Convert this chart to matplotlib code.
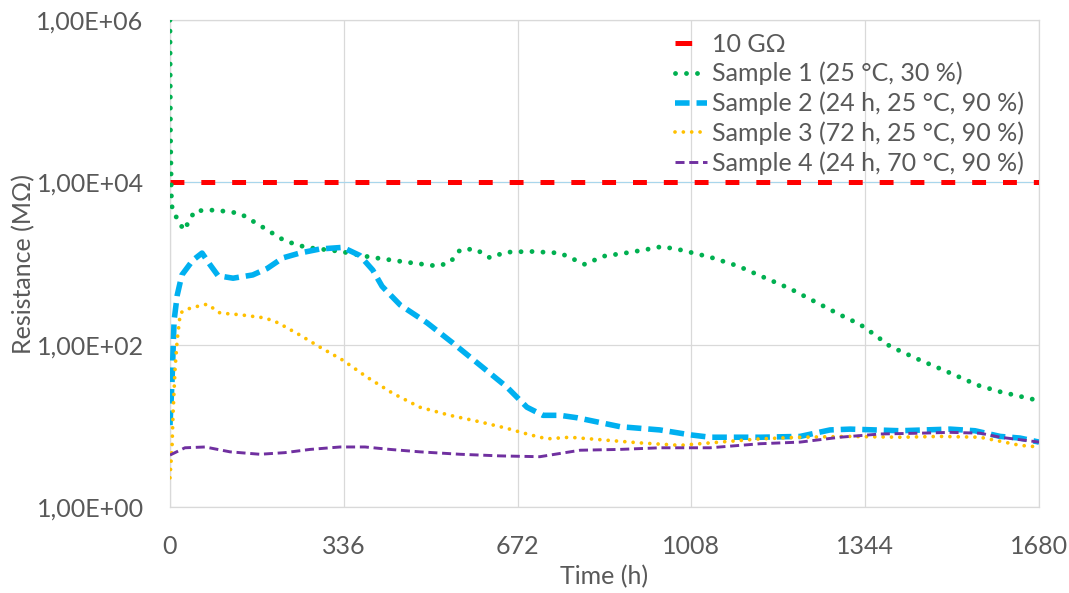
import numpy as np
import matplotlib
matplotlib.use("Agg")
import matplotlib.pyplot as plt
from matplotlib.ticker import FixedLocator, FixedFormatter, NullLocator

plt.rcParams['font.family'] = ['Lato', 'DejaVu Sans']
plt.rcParams['lines.scale_dashes'] = False

# -- data (time in h, resistance in MOhm)
limit_value = 1e4

s1_t = [0, 1, 3, 8, 27, 48, 87, 135, 174, 222, 263, 329, 387, 454, 516, 541, 561, 590,
        619, 648, 696, 754, 802, 837, 880, 918, 951, 986, 1044, 1098, 1141, 1199, 1253,
        1295, 1334, 1363, 1392, 1450, 1498, 1562, 1605, 1680]
s1_log = [6.0, 4.6, 3.72, 3.62, 3.41, 3.65, 3.66, 3.62, 3.47, 3.28, 3.20, 3.15, 3.08, 3.02,
          2.97, 3.01, 3.17, 3.18, 3.07, 3.14, 3.15, 3.13, 2.99, 3.09, 3.13, 3.17, 3.21, 3.17,
          3.08, 2.97, 2.85, 2.69, 2.51, 2.37, 2.25, 2.12, 1.98, 1.81, 1.68, 1.50, 1.42, 1.31]

s2_t = [0, 4, 8, 14, 23, 44, 62, 77, 93, 122, 160, 188, 218, 251, 290, 334, 367, 392, 410,
        445, 497, 547, 599, 651, 690, 721, 754, 787, 870, 947, 1005, 1044, 1141, 1218, 1276,
        1315, 1411, 1508, 1556, 1605, 1643, 1680]
s2_log = [1.01, 1.56, 2.30, 2.61, 2.86, 3.04, 3.13, 2.99, 2.85, 2.82, 2.86, 2.94, 3.07, 3.13,
          3.18, 3.20, 3.10, 2.92, 2.72, 2.49, 2.27, 2.02, 1.75, 1.48, 1.23, 1.13, 1.13, 1.10,
          0.99, 0.95, 0.89, 0.86, 0.86, 0.87, 0.95, 0.96, 0.94, 0.96, 0.94, 0.87, 0.85, 0.80]

s3_t = [0, 4, 6, 10, 14, 20, 30, 44, 72, 97, 135, 184, 209, 251, 290, 334, 381, 431, 483,
        541, 599, 651, 696, 729, 773, 831, 909, 986, 1063, 1141, 1218, 1315, 1411, 1489,
        1566, 1605, 1643, 1680]
s3_log = [0.36, 0.74, 1.16, 1.72, 2.06, 2.39, 2.43, 2.46, 2.50, 2.39, 2.37, 2.33, 2.27, 2.12,
          1.97, 1.81, 1.60, 1.40, 1.23, 1.13, 1.05, 0.97, 0.89, 0.84, 0.86, 0.83, 0.79, 0.76,
          0.80, 0.84, 0.86, 0.87, 0.86, 0.87, 0.86, 0.81, 0.76, 0.74]

s4_t = [0, 29, 68, 116, 174, 222, 271, 329, 377, 425, 483, 561, 638, 715, 754, 793, 870,
        947, 1044, 1141, 1218, 1295, 1373, 1450, 1508, 1566, 1605, 1680]
s4_log = [0.64, 0.73, 0.74, 0.68, 0.65, 0.67, 0.71, 0.74, 0.74, 0.71, 0.68, 0.65, 0.63, 0.62,
          0.66, 0.70, 0.71, 0.73, 0.73, 0.78, 0.80, 0.86, 0.90, 0.91, 0.92, 0.91, 0.86, 0.80]

labels = ["10 G\u03a9", "Sample 1 (25 \u00b0C, 30 %)", "Sample 2 (24 h, 25 \u00b0C, 90 %)",
          "Sample 3 (72 h, 25 \u00b0C, 90 %)", "Sample 4 (24 h, 70 \u00b0C, 90 %)"]
xticks = [0, 336, 672, 1008, 1344, 1680]
yticks = [1, 1e2, 1e4, 1e6]
ytick_labels = ["1,00E+00", "1,00E+02", "1,00E+04", "1,00E+06"]

txt = "#595959"
grid = "#d9d9d9"
fs = 18

fig = plt.figure(figsize=(10.69, 5.93), dpi=100)
ax = fig.add_axes([0.159, 0.145, 0.813, 0.821])

ax.plot([0, 1680], [limit_value, limit_value], color="#a9d6ec", lw=0.8, zorder=2)
ax.plot([0, 1680], [limit_value, limit_value], color="#ff0000", lw=3.6,
        dashes=(10, 12.2), dash_capstyle="butt", label=labels[0], zorder=3)
ax.plot(s1_t, 10 ** np.array(s1_log), color="#00b050", lw=3.5, dashes=(0.01, 7.9),
        dash_capstyle="round", label=labels[1], zorder=4)
ax.plot(s2_t, 10 ** np.array(s2_log), color="#00b0f0", lw=4.0, dashes=(10.5, 5.0),
        dash_capstyle="butt", label=labels[2], zorder=4)
ax.plot(s3_t, 10 ** np.array(s3_log), color="#ffc000", lw=2.7, dashes=(0.01, 6.0),
        dash_capstyle="round", label=labels[3], zorder=4)
ax.plot(s4_t, 10 ** np.array(s4_log), color="#7030a0", lw=2.1, dashes=(6.5, 3.4),
        dash_capstyle="butt", label=labels[4], zorder=5)

ax.set_yscale("log")
ax.set_xlim(0, 1680)
ax.set_ylim(1, 1e6)
ax.xaxis.set_major_locator(FixedLocator(xticks))
ax.yaxis.set_major_locator(FixedLocator(yticks))
ax.yaxis.set_major_formatter(FixedFormatter(ytick_labels))
ax.yaxis.set_minor_locator(NullLocator())
ax.grid(True, color=grid, lw=0.9, zorder=0)
ax.set_axisbelow(True)
for sp in ax.spines.values():
    sp.set_color(grid)
    sp.set_linewidth(0.9)
ax.tick_params(length=0, labelsize=fs, labelcolor=txt)
ax.tick_params(axis="y", pad=19)
ax.tick_params(axis="x", pad=20)

ax.set_xlabel("Time (h)", fontsize=fs, color=txt, labelpad=5)
ax.set_ylabel("Resistance (M\u03a9)", fontsize=fs, color=txt, labelpad=1)

leg = ax.legend(loc="upper left", bbox_to_anchor=(0.631, 0.945), bbox_transform=fig.transFigure,
                frameon=False, fontsize=fs, handlelength=1.3, handletextpad=0.2,
                labelspacing=0.25, borderpad=0, borderaxespad=0)
for t in leg.get_texts():
    t.set_color(txt)
# the limit line shows as one short dash in the legend
leg.get_lines()[0].set_dashes((12, 30))

fig.savefig("out.png", dpi=100)
